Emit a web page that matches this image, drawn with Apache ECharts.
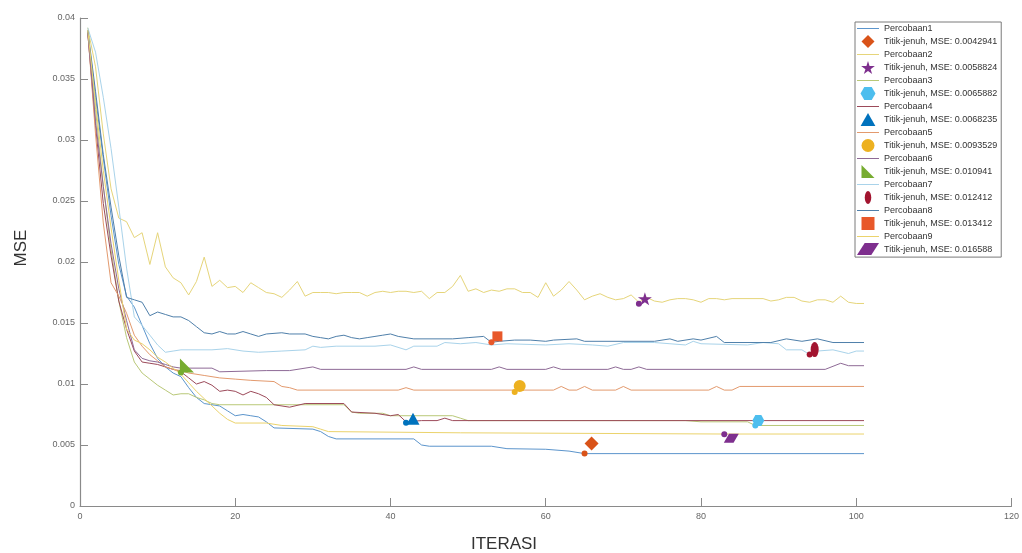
<!DOCTYPE html>
<html>
<head>
<meta charset="utf-8">
<script src="https://cdn.jsdelivr.net/npm/echarts@6/dist/echarts.min.js"></script>
<style>
  html, body { margin: 0; padding: 0; background: #fff; }
  #chart { width: 1022px; height: 553px; }
</style>
</head>
<body>
<div id="chart"></div>
<script>
// MSE per iteration for each trial, as [iteration, mse] pairs (straight segments in between)
const trial1 = [[1,0.0388],[2,0.0335],[3,0.0285],[4,0.0238],[5,0.0198],[6,0.0172],[7,0.0163],[8,0.0148],[9,0.0133],[10,0.0121],[11,0.0114],[12,0.0109],[13,0.0106],[14,0.0097],[15,0.0089],[16,0.0084],[17,0.0083],[18,0.0082],[19,0.0078],[20,0.0074],[21,0.0075],[22,0.0074],[23,0.0073],[24,0.0069],[25,0.0064],[30,0.0063],[31,0.0061],[32,0.0057],[33,0.0055],[43,0.0055],[44,0.005],[45,0.0049],[53,0.0049],[55,0.0047],[60,0.00465],[63,0.0045],[65,0.0042941],[101,0.0042941]];
const trial2 = [[1,0.0392],[2,0.036],[3,0.0305],[4,0.026],[5,0.0236],[6,0.0233],[7,0.022],[8,0.0224],[9,0.0198],[10,0.0224],[11,0.0196],[12,0.0187],[13,0.0183],[14,0.0173],[15,0.0184],[16,0.0204],[17,0.018],[18,0.0185],[19,0.0179],[20,0.018],[21,0.0175],[22,0.0183],[23,0.0179],[24,0.0175],[25,0.0174],[26,0.0171],[27,0.0177],[28,0.0184],[29,0.0172],[30,0.0175],[31,0.0175],[32,0.0175],[33,0.0174],[34,0.0175],[35,0.0175],[36,0.0175],[37,0.0172],[38,0.0175],[39,0.0176],[40,0.0175],[41,0.0176],[42,0.0176],[43,0.0175],[44,0.0176],[45,0.017],[46,0.0175],[47,0.0175],[48,0.018],[49,0.0189],[50,0.0176],[51,0.0178],[52,0.0175],[53,0.0177],[54,0.0176],[55,0.0178],[56,0.0178],[57,0.0175],[58,0.0175],[59,0.0171],[60,0.0183],[61,0.0172],[62,0.0177],[63,0.0184],[64,0.0177],[65,0.0169],[66,0.0172],[67,0.0174],[68,0.0171],[69,0.0169],[70,0.017],[71,0.0173],[72,0.0167],[73,0.0171],[74,0.0168],[75,0.0167],[76,0.0169],[77,0.017],[78,0.017],[79,0.0169],[80,0.0167],[81,0.017],[82,0.017],[83,0.0169],[84,0.017],[88,0.017],[89,0.0168],[90,0.0169],[91,0.0171],[92,0.0171],[93,0.0168],[94,0.0167],[95,0.0169],[96,0.0169],[97,0.0167],[98,0.0172],[99,0.0167],[100,0.0166],[101,0.0166]];
const trial3 = [[1,0.0389],[2,0.0325],[3,0.0262],[4,0.021],[5,0.0168],[6,0.0138],[7,0.0118],[8,0.0109],[9,0.0104],[10,0.0099],[11,0.0095],[12,0.0091],[13,0.0092],[14,0.0092],[15,0.0089],[16,0.0087],[17,0.0084],[18,0.0083],[34,0.0083],[35,0.0077],[36,0.0076],[39,0.0076],[40,0.0074],[48,0.0074],[49,0.0072],[50,0.007],[78,0.007],[80,0.0069],[86,0.0069],[87,0.0066],[101,0.0066]];
const trial4 = [[1,0.0388],[2,0.0312],[3,0.0248],[4,0.0205],[5,0.0168],[6,0.0145],[7,0.0127],[8,0.0118],[9,0.0117],[10,0.0116],[11,0.0114],[12,0.0112],[13,0.011],[14,0.0105],[15,0.01],[16,0.0102],[17,0.0099],[18,0.0094],[19,0.0095],[20,0.0094],[21,0.0091],[22,0.0094],[23,0.0092],[24,0.0089],[25,0.0083],[27,0.0081],[29,0.0084],[34,0.0084],[35,0.0077],[38,0.0076],[40,0.0074],[41,0.0075],[42,0.0069],[44,0.007],[46,0.007],[47,0.0072],[48,0.007],[101,0.007]];
const trial5 = [[1,0.0389],[2,0.0305],[3,0.0232],[4,0.0183],[5,0.0172],[6,0.0158],[7,0.014],[8,0.0131],[9,0.0124],[10,0.0119],[11,0.0114],[12,0.0112],[13,0.0111],[14,0.0109],[16,0.0107],[18,0.0105],[20,0.0104],[22,0.0103],[25,0.0102],[26,0.0098],[27,0.0097],[28,0.0095],[41,0.0095],[42,0.0097],[43,0.0095],[61,0.0095],[62,0.0098],[63,0.0095],[64,0.0095],[65,0.0098],[66,0.0095],[69,0.0095],[70,0.0098],[71,0.0095],[81,0.0095],[82,0.0098],[83,0.0095],[84,0.0095],[85,0.0098],[101,0.0098]];
const trial6 = [[1,0.0388],[2,0.0315],[3,0.0262],[4,0.0215],[5,0.0178],[6,0.0152],[7,0.0128],[8,0.0121],[9,0.0119],[10,0.0118],[11,0.0116],[12,0.0114],[13,0.0113],[17,0.0113],[18,0.011],[24,0.0111],[27,0.0111],[30,0.0114],[31,0.0112],[42,0.0112],[43,0.0114],[44,0.0112],[53,0.0112],[54,0.0114],[55,0.0112],[60,0.0112],[61,0.0114],[62,0.0112],[68,0.0112],[69,0.0114],[70,0.0112],[71,0.0112],[72,0.0114],[73,0.0112],[96,0.0112],[98,0.0117],[99,0.0115],[101,0.0115]];
const trial7 = [[1,0.0392],[2,0.0372],[3,0.0335],[4,0.0293],[5,0.0245],[6,0.0195],[7,0.0155],[8,0.0148],[9,0.014],[10,0.0132],[11,0.0126],[12,0.0127],[13,0.0128],[17,0.0128],[19,0.0129],[21,0.0127],[23,0.0126],[26,0.0127],[29,0.0128],[30,0.0131],[31,0.013],[33,0.0131],[38,0.0131],[40,0.0132],[42,0.0128],[43,0.0131],[46,0.0131],[47,0.0134],[49,0.0133],[51,0.0134],[53,0.0132],[55,0.0133],[60,0.0132],[63,0.0133],[66,0.0132],[68,0.0131],[70,0.0134],[74,0.0134],[76,0.0133],[78,0.0132],[79,0.0135],[80,0.0133],[86,0.0132],[88,0.0134],[90,0.0133],[91,0.0128],[93,0.0128],[94,0.012412],[95,0.0127],[97,0.0128],[99,0.0125],[100,0.0127],[101,0.0127]];
const trial8 = [[1,0.039],[2,0.034],[3,0.0288],[4,0.0245],[5,0.0205],[6,0.0171],[7,0.0169],[8,0.0167],[9,0.0156],[10,0.0159],[11,0.0157],[12,0.0155],[13,0.0155],[14,0.0152],[15,0.0147],[16,0.0142],[17,0.0141],[18,0.0143],[19,0.0141],[20,0.0141],[21,0.0143],[22,0.0141],[23,0.0139],[24,0.0141],[26,0.0142],[27,0.0141],[29,0.0141],[30,0.0139],[31,0.0138],[32,0.0137],[33,0.0139],[34,0.014],[35,0.0138],[36,0.0137],[37,0.0138],[38,0.0139],[39,0.014],[40,0.0141],[41,0.0139],[42,0.0138],[43,0.0137],[48,0.0137],[50,0.0138],[52,0.0139],[53,0.013412],[54,0.0135],[56,0.0136],[58,0.0136],[60,0.0135],[61,0.0136],[64,0.0137],[65,0.0135],[74,0.0135],[76,0.0137],[77,0.0135],[79,0.0137],[80,0.0136],[82,0.0139],[83,0.0134],[89,0.0134],[91,0.0137],[93,0.0135],[95,0.0137],[97,0.0134],[101,0.0134]];
const trial9 = [[1,0.039],[2,0.033],[3,0.0275],[4,0.0228],[5,0.0185],[6,0.0145],[7,0.0136],[8,0.0133],[9,0.0128],[10,0.0122],[11,0.0118],[12,0.0113],[13,0.0108],[14,0.0101],[15,0.0094],[16,0.0088],[17,0.0082],[18,0.0076],[19,0.0071],[20,0.0068],[24,0.0068],[26,0.0066],[30,0.0065],[31,0.0063],[32,0.0061],[49,0.006],[83,0.0059],[101,0.0059]];

const trials = [trial1, trial2, trial3, trial4, trial5, trial6, trial7, trial8, trial9];
const trialNames = ["Percobaan1","Percobaan2","Percobaan3","Percobaan4","Percobaan5","Percobaan6","Percobaan7","Percobaan8","Percobaan9"];

// saturation points ("titik jenuh") as drawn on the curves, and the legend labels
const satIter = [65, 72, 87, 42, 56, 13, 94, 53, 83];
const satMSE = [0.0042941, 0.016588, 0.0065882, 0.0068235, 0.0093529, 0.010941, 0.012412, 0.013412, 0.0058824];
const satLabels = ["0.0042941","0.0058824","0.0065882","0.0068235","0.0093529","0.010941","0.012412","0.013412","0.016588"];

const lineColors = ["#5c95cc","#e6d57a","#b9c878","#9c4a5a","#e39a6e","#8e6a96","#a9d3ea","#4f7faa","#ebd36c"];
const markerColors = ["#d95319","#7e2f8e","#4dbeee","#0072bd","#edb120","#77ac30","#a2142f","#e8582a","#7e2f8e"];
const markerShapes = [
  "path://M50,0 L100,50 L50,100 L0,50 Z",
  "path://M50,0 L61,35 L98,35 L68,57 L79,91 L50,70 L21,91 L32,57 L2,35 L39,35 Z",
  "path://M25,0 L75,0 L100,43 L75,87 L25,87 L0,43 Z",
  "path://M50,0 L100,88 L0,88 Z",
  "circle",
  "path://M0,0 L0,100 L100,100 Z",
  "path://M50,0 A50,100 0 1,1 50,200 A50,100 0 1,1 50,0 Z",
  "path://M0,0 L100,0 L100,100 L0,100 Z",
  "path://M35,0 L100,0 L65,55 L0,55 Z"
];
const markerSizes = [[14,14],[14,13],[12,11],[13,12],[12,12],[14,14],[8,15],[10,10],[15,9]];
const markerOffsets = [[7,-10],[6,-5],[3,-5],[7,-4],[5,-6],[6,-7],[5,-5],[6,-6],[7,4]];

const chart = echarts.init(document.getElementById("chart"));

const series = [];
const legendData = [];
trials.forEach(function (pts, i) {
  series.push({
    name: trialNames[i],
    type: "line",
    data: pts,
    symbol: "none",
    lineStyle: { width: 1, color: lineColors[i] },
    itemStyle: { color: lineColors[i] },
    z: 2
  });
  const label = "Titik-jenuh, MSE: " + satLabels[i];
  series.push({
    name: "dot" + i,
    type: "scatter",
    data: [[satIter[i], satMSE[i]]],
    symbol: "circle",
    symbolSize: 6,
    itemStyle: { color: markerColors[i], opacity: 1 },
    z: 4
  });
  series.push({
    name: label,
    type: "scatter",
    data: [[satIter[i], satMSE[i]]],
    symbol: markerShapes[i],
    symbolSize: markerSizes[i],
    symbolOffset: markerOffsets[i],
    itemStyle: { color: markerColors[i], opacity: 1 },
    z: 5
  });
  legendData.push({ name: trialNames[i], icon: "path://M0,0 L22,0 L22,1 L0,1 Z" });
  legendData.push({ name: label });
});

const axisGray = "#8a8a8a";
const labelFont = "Liberation Sans";

chart.setOption({
  animation: false,
  backgroundColor: "#ffffff",
  grid: { left: 80, right: 1, top: 18, bottom: 47 },
  xAxis: {
    type: "value",
    min: 0,
    max: 120,
    interval: 20,
    axisLine: { lineStyle: { color: axisGray, width: 1.2 } },
    axisTick: { inside: true, length: 8, lineStyle: { color: axisGray } },
    axisLabel: { color: "#666", fontSize: 9, fontFamily: labelFont, margin: 6 },
    splitLine: { show: false }
  },
  yAxis: {
    type: "value",
    min: 0,
    max: 0.04,
    interval: 0.005,
    axisLine: { show: true, lineStyle: { color: axisGray, width: 1.2 } },
    axisTick: { show: true, inside: true, length: 8, lineStyle: { color: axisGray } },
    axisLabel: { color: "#666", fontSize: 9, fontFamily: labelFont, margin: 5 },
    splitLine: { show: false }
  },
  legend: {
    orient: "vertical",
    left: 855,
    top: 22,
    itemWidth: 22,
    itemHeight: 13,
    itemGap: 2,
    itemTextGap: 5,
    padding: [2, 4, 2, 2],
    borderColor: "#7a7a7a",
    borderWidth: 1,
    backgroundColor: "#ffffff",
    selectedMode: false,
    textStyle: { fontSize: 9, color: "#333", fontFamily: labelFont },
    data: legendData
  },
  graphic: [
    {
      type: "text",
      x: 21,
      y: 248,
      rotation: Math.PI / 2,
      style: { text: "MSE", fill: "#333", font: "17px Liberation Sans", align: "center", verticalAlign: "middle" }
    },
    {
      type: "text",
      x: 504,
      y: 544,
      style: { text: "ITERASI", fill: "#333", font: "17px Liberation Sans", align: "center", verticalAlign: "middle" }
    }
  ],
  series: series
});
</script>
</body>
</html>
